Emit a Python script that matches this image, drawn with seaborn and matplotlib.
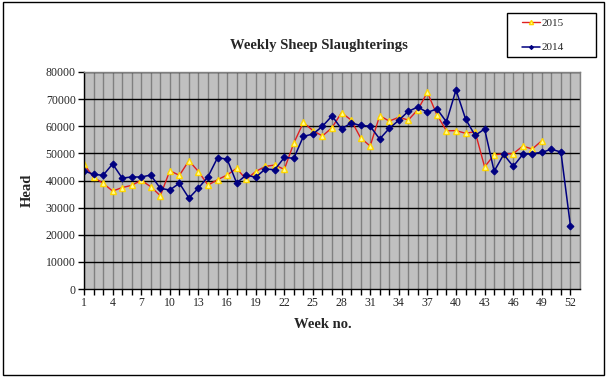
import numpy as np
import pandas as pd
import matplotlib
matplotlib.use("Agg")
import matplotlib.pyplot as plt
import seaborn as sns
from matplotlib.patches import Rectangle

# weekly slaughterings (head)
weeks_2014 = list(range(1, 53))
head_2014 = [43500, 42300, 41900, 46100, 40900, 41300, 41300, 42000, 37100, 36500,
             39000, 33500, 37200, 41400, 48400, 47900, 39100, 42000, 41200, 44200,
             44000, 48500, 48200, 56300, 57100, 60000, 63800, 59000, 61200, 60300,
             60000, 55300, 59200, 62200, 65500, 67100, 65100, 66400, 61600, 73400,
             62700, 56600, 59000, 43400, 49600, 45200, 49600, 49900, 50400, 51500,
             50500, 23200]

weeks_2015 = list(range(1, 50))
head_2015 = [46000, 41200, 39000, 36100, 37400, 38200, 40100, 37700, 34400, 43600,
             41900, 47300, 43300, 38300, 40300, 42000, 44500, 40400, 43300, 45200,
             45700, 44100, 53800, 61400, 58400, 56400, 59500, 65000, 62300, 55700,
             52700, 63900, 61900, 63300, 62300, 66100, 72500, 64200, 58300, 58400,
             57400, 58000, 45000, 49500, 49800, 49900, 52700, 51600, 54700]

x_ticks = list(range(1, 53, 3))
y_ticks = list(range(0, 80001, 10000))

df = pd.concat([
    pd.DataFrame({"week": weeks_2015, "head": head_2015, "year": "2015"}),
    pd.DataFrame({"week": weeks_2014, "head": head_2014, "year": "2014"}),
])

sns.set_style("white")
plt.rcParams["font.family"] = ["Liberation Serif", "DejaVu Serif"]

W, H = 609, 380
fig = plt.figure(figsize=(W / 100, H / 100), dpi=100)
ax = fig.add_axes([84 / W, 1 - 289 / H, 496 / W, 217 / H])
ax.set_facecolor("#C0C0C0")

# vertical week gridlines (grey) and horizontal value gridlines (black)
for w in range(1, 54):
    ax.axvline(w, color="#808080", lw=1, zorder=0)
for v in y_ticks[1:]:
    ax.axhline(v, color="black", lw=1, zorder=0.5)

sns.lineplot(data=df[df.year == "2015"], x="week", y="head", ax=ax, color="#E02020",
             lw=1, marker="^", markersize=5, markerfacecolor="#FFFF99",
             markeredgecolor="#FFD700", markeredgewidth=1, label="2015")
sns.lineplot(data=df[df.year == "2014"], x="week", y="head", ax=ax, color="#000080",
             lw=1.1, marker="D", markersize=3.5, markerfacecolor="#000080",
             markeredgecolor="#000080", label="2014")

ax.set_xlim(1, 53)
ax.set_ylim(0, 80000)
ax.set_xticks(range(1, 53))
ax.set_xticklabels([str(w) if w in x_ticks else "" for w in range(1, 53)])
ax.set_yticks(y_ticks)
ax.set_yticklabels([str(v) for v in y_ticks])
ax.tick_params(axis="both", labelsize=8.5, length=4, width=1, color="black", direction="out",
               left=True, bottom=True, pad=2)

for s in ["left", "bottom"]:
    ax.spines[s].set_color("black")
    ax.spines[s].set_linewidth(1)
for s in ["top", "right"]:
    ax.spines[s].set_color("#808080")
    ax.spines[s].set_linewidth(1)

ax.set_xlabel("")
ax.set_ylabel("")
fig.text(319 / W, 1 - 45 / H, "Weekly Sheep Slaughterings", fontsize=10.5,
         fontweight="bold", ha="center", va="center")
fig.text(323 / W, 1 - 325 / H, "Week no.", fontsize=10.5, fontweight="bold",
         ha="center", va="center")
fig.text(27 / W, 1 - 190 / H, "Head", fontsize=10.5, fontweight="bold",
         ha="center", va="center", rotation=90)

handles, labels = ax.get_legend_handles_labels()
ax.get_legend().remove()
leg = fig.legend(handles, labels, loc="upper left", bbox_to_anchor=(518 / W, 1 - 14 / H),
                 fontsize=8, frameon=False, handlelength=1.6, handletextpad=0.1,
                 labelspacing=1.3, borderaxespad=0, borderpad=0.4, markerscale=0.6)

# legend box and outer chart frame
fig.patches.append(Rectangle((507 / W, 1 - 57 / H), 89 / W, 44 / H,
                             transform=fig.transFigure, fill=False,
                             edgecolor="black", lw=1))
fig.patches.append(Rectangle((3 / W, 5 / H), 601 / W, 373 / H,
                             transform=fig.transFigure, fill=False,
                             edgecolor="black", lw=1))

fig.savefig("out.png", dpi=100)
